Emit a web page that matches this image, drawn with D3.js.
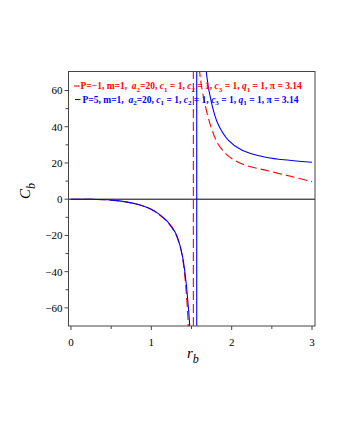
<html>
<head>
	<script src="https://cdnjs.cloudflare.com/ajax/libs/d3/7.8.5/d3.min.js"></script>
	<style>
		body { margin: 0; background: #fff; }
	</style>
</head>
<body>
	<div id="chart"></div>
</body>
<script>
// values (r_b, C_b)
var redLeftR = [0, 0.25, 0.5, 0.7, 0.85, 1.0, 1.1, 1.2, 1.3, 1.36, 1.39, 1.42, 1.44, 1.46, 1.49]
var redLeftC = [0, -0.05, -0.5, -1.6, -3.1, -5.7, -8.6, -12.6, -19, -26.5, -33, -44, -55, -70, -120]
var redRightR = [1.56, 1.6, 1.67, 1.75, 1.83, 1.96, 2.13, 2.44, 2.72, 3.0]
var redRightC = [130, 71, 52, 39, 30.5, 23.8, 19.4, 15.8, 12.8, 9.7]
var redAsym = 1.523

var blueLeftR = [0, 0.25, 0.5, 0.7, 0.85, 1.0, 1.1, 1.2, 1.3, 1.36, 1.39, 1.42, 1.45, 1.48, 1.51]
var blueLeftC = [0, -0.05, -0.5, -1.6, -3.1, -5.6, -8.4, -12.3, -18.5, -26, -32, -41, -54, -72, -130]
var blueRightR = [1.62, 1.69, 1.75, 1.83, 1.96, 2.13, 2.44, 2.72, 3.0]
var blueRightC = [120, 68, 53, 41.5, 32.5, 27, 23, 21.5, 20.4]
var blueAsym = 1.565

var xTicks = [0, 1, 2, 3]
var xMinor = [0.5, 1.5, 2.5]
var yTicks = [-60, -40, -20, 0, 20, 40, 60]
var yMinor = [-50, -30, -10, 10, 30, 50]

var legendRed = ["P=\u22121, m=1,  ", "a", "2", "=20, ", "c", "1", " = 1, ", "c", "2", " = 1, ", "c", "3", " = 1, ", "q", "1", " = 1, \u03c0 = 3.14"]
var legendBlue = ["P=5, m=1,  ", "a", "2", "=20, ", "c", "1", " = 1, ", "c", "2", " = 1, ", "c", "3", " = 1, ", "q", "1", " = 1, \u03c0 = 3.14"]

var width = 340
var height = 440
var plotLeft = 68.5, plotRight = 315, plotTop = 71.5, plotBottom = 326

var x = d3.scaleLinear().domain([-0.031, 3.037]).range([plotLeft, plotRight])
var y = d3.scaleLinear().domain([-70, 70.5]).range([plotBottom, plotTop])

var svg = d3.select("#chart")
	.append("svg")
	.attr("width", width)
	.attr("height", height)
	.style("font-family", "'Liberation Serif', 'DejaVu Serif', serif")

svg.append("defs")
	.append("clipPath")
	.attr("id", "plotclip")
	.append("rect")
	.attr("x", plotLeft)
	.attr("y", plotTop)
	.attr("width", plotRight - plotLeft)
	.attr("height", plotBottom - plotTop)

// zero line
svg.append("line")
	.attr("x1", plotLeft).attr("x2", plotRight)
	.attr("y1", y(0)).attr("y2", y(0))
	.style("stroke", "#000")
	.style("stroke-width", 1)

function zip(rs, cs){
	return rs.map(function(r, i){ return [r, cs[i]] })
}

var line = d3.line()
	.x(function(d){ return x(d[0]) })
	.y(function(d){ return y(d[1]) })
	.curve(d3.curveCatmullRom.alpha(0.5))

var plot = svg.append("g").attr("clip-path", "url(#plotclip)")

function drawSeries(leftR, leftC, rightR, rightC, asym, color, dash){
	var g = plot.append("g")
		.style("fill", "none")
		.style("stroke", color)
		.style("stroke-width", 1.1)
		.style("stroke-dasharray", dash)
	g.append("path").attr("d", line(zip(leftR, leftC)))
	g.append("line")
		.attr("x1", x(asym)).attr("x2", x(asym))
		.attr("y1", plotBottom).attr("y2", plotTop)
	g.append("path").attr("d", line(zip(rightR, rightC)))
}

drawSeries(redLeftR, redLeftC, redRightR, redRightC, redAsym, "#ff0000", "9,4")
drawSeries(blueLeftR, blueLeftC, blueRightR, blueRightC, blueAsym, "#0000ff", null)

// frame
svg.append("rect")
	.attr("x", plotLeft).attr("y", plotTop)
	.attr("width", plotRight - plotLeft).attr("height", plotBottom - plotTop)
	.style("fill", "none")
	.style("stroke", "#444")
	.style("stroke-width", 1)

// axes
var xAxis = svg.append("g").attr("transform", "translate(0," + plotBottom + ")")
xAxis.selectAll(".major").data(xTicks).enter()
	.append("line")
	.attr("x1", function(d){ return x(d) }).attr("x2", function(d){ return x(d) })
	.attr("y1", 0).attr("y2", 4)
	.style("stroke", "#444")
xAxis.selectAll(".minor").data(xMinor).enter()
	.append("line")
	.attr("x1", function(d){ return x(d) }).attr("x2", function(d){ return x(d) })
	.attr("y1", 0).attr("y2", 3)
	.style("stroke", "#444")
xAxis.selectAll("text").data(xTicks).enter()
	.append("text")
	.attr("x", function(d){ return x(d) })
	.attr("y", 20)
	.attr("text-anchor", "middle")
	.style("font-size", "11px")
	.text(function(d){ return d })

var yAxis = svg.append("g").attr("transform", "translate(" + plotLeft + ",0)")
yAxis.selectAll(".major").data(yTicks).enter()
	.append("line")
	.attr("y1", function(d){ return y(d) }).attr("y2", function(d){ return y(d) })
	.attr("x1", 0).attr("x2", -4)
	.style("stroke", "#444")
yAxis.selectAll(".minor").data(yMinor).enter()
	.append("line")
	.attr("y1", function(d){ return y(d) }).attr("y2", function(d){ return y(d) })
	.attr("x1", 0).attr("x2", -3)
	.style("stroke", "#444")
yAxis.selectAll("text").data(yTicks).enter()
	.append("text")
	.attr("x", -6)
	.attr("y", function(d){ return y(d) })
	.attr("dy", "0.35em")
	.attr("text-anchor", "end")
	.style("font-size", "11px")
	.text(function(d){ return d < 0 ? "\u2212" + Math.abs(d) : d })

// axis titles
var xt = svg.append("text")
	.attr("x", 187)
	.attr("y", 358)
	.style("font-size", "15px")
	.style("font-style", "italic")
xt.append("tspan").text("r")
xt.append("tspan").attr("dy", 5).style("font-size", "12px").text("b")

var yt = svg.append("text")
	.attr("transform", "translate(30,199) rotate(-90)")
	.style("font-size", "15px")
	.style("font-style", "italic")
yt.append("tspan").text("C")
yt.append("tspan").attr("dy", 5).style("font-size", "12px").text("b")

// legend
function drawLegend(parts, color, ly, x0, x1, tx){
	svg.append("line")
		.attr("x1", x0).attr("x2", x1)
		.attr("y1", ly).attr("y2", ly)
		.style("stroke", color)
		.style("stroke-width", 1.1)
	var t = svg.append("text")
		.attr("x", tx)
		.attr("y", ly + 3)
		.style("font-size", "9.5px")
		.style("font-weight", "bold")
		.style("fill", color)
		.style("white-space", "pre")
	var sub = false
	parts.forEach(function(p, i){
		var ts = t.append("tspan").text(p)
		if(p == "a" || p == "c" || p == "q"){
			ts.style("font-style", "italic")
			if(sub){ ts.attr("dy", -2.5) }
			sub = false
		} else if(/^[0-9]$/.test(p) && i > 0 && /^[acq]$/.test(parts[i - 1])){
			ts.attr("dy", 2.5).style("font-size", "7px")
			sub = true
		} else if(sub){
			ts.attr("dy", -2.5)
			sub = false
		}
	})
}

drawLegend(legendRed, "#ff0000", 86, 74, 79.5, 80.5)
drawLegend(legendBlue, "#0000ff", 99.5, 75, 80.5, 82.5)
</script>
</html>
